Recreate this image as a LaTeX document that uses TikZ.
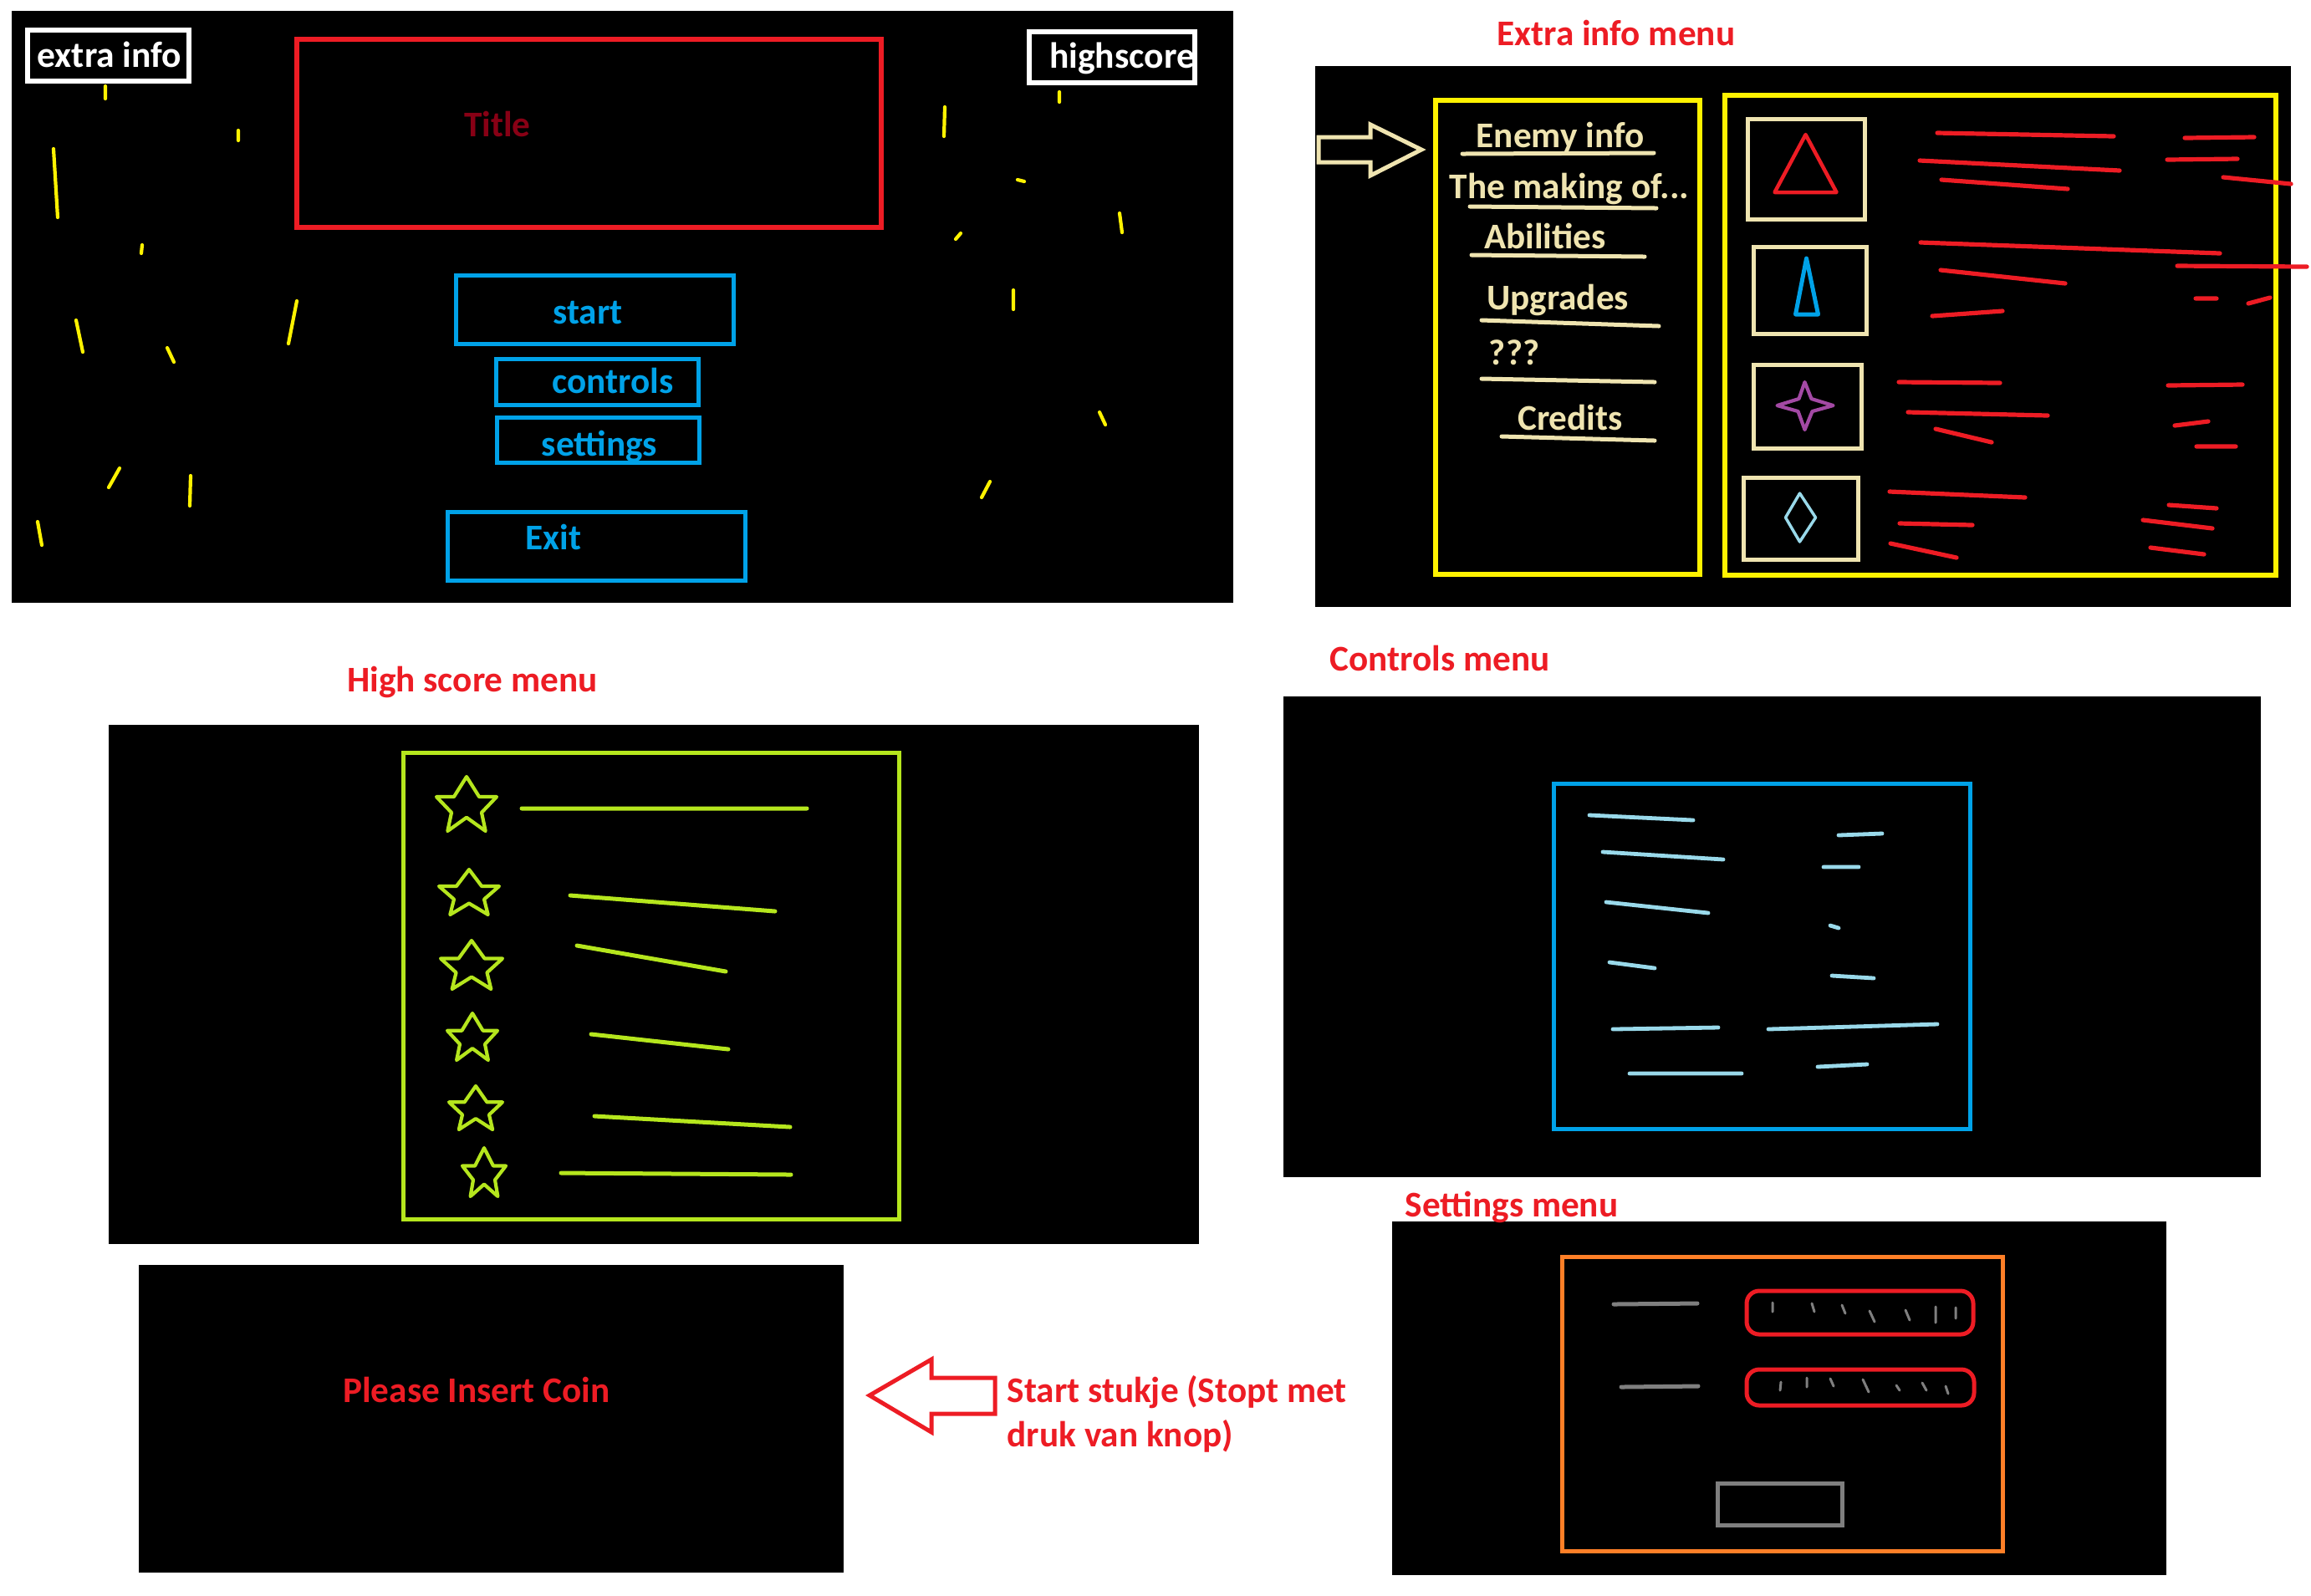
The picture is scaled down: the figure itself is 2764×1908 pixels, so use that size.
\documentclass[tikz,border=0pt]{standalone}
\usepackage{fontspec}
\usepackage{xcolor}
\usepackage{tikz}
\usetikzlibrary{positioning}
\setmainfont{Carlito}
\definecolor{paintred}{HTML}{ED1C24}
\definecolor{paintdark}{HTML}{880015}
\definecolor{paintblue}{HTML}{00A2E8}
\definecolor{paintsky}{HTML}{99D9EA}
\definecolor{paintyellow}{HTML}{FFF200}
\definecolor{paintlime}{HTML}{B5E61D}
\definecolor{paintcream}{HTML}{EFE4B0}
\definecolor{paintpurple}{HTML}{A349A4}
\definecolor{paintorange}{HTML}{FF7F27}
\definecolor{paintgray}{HTML}{7F7F7F}
\newcommand{\scorestar}[4]{\draw[starline, shift={(#1,#2)}, x=#3*0.1mm, y=#4*-0.1mm] (0,0) -- (.42,.37) -- (1,.37) -- (.5,.66) -- (.63,1) -- (0,.75) -- (-.63,1) -- (-.5,.66) -- (-1,.37) -- (-.42,.37) -- cycle;}

\begin{document}
\begin{tikzpicture}[x=0.1mm, y=-0.1mm,
  txt/.style={font=\fontsize{12.3}{14}\selectfont\bfseries, inner sep=0pt},
  heading/.style={txt, text=paintred},
  whitetxt/.style={font=\fontsize{12.4}{14}\selectfont\bfseries, inner sep=0pt, text=white},
  whitebox/.style={draw=white, line width=0.65mm, inner sep=0pt},
  menubtn/.style={draw=paintblue, line width=0.55mm, inner sep=0pt},
  iconbox/.style={draw=paintcream, line width=0.5mm, inner sep=0pt},
  spark/.style={draw=paintyellow, line width=0.42mm, line cap=round},
  thinred/.style={draw=paintred, line width=0.52mm, line cap=round},
  creamline/.style={draw=paintcream, line width=0.5mm, line cap=round},
  limeline/.style={draw=paintlime, line width=0.5mm, line cap=round},
  skyline/.style={draw=paintsky, line width=0.48mm, line cap=round},
  grayline/.style={draw=paintgray, line width=0.5mm, line cap=round},
  tick/.style={draw=paintgray, line width=0.3mm, line cap=round},
  starline/.style={draw=paintlime, line width=0.42mm, line join=round}]
  \useasboundingbox (0,0) rectangle (2764,1908);
  \fill[white] (0,0) rectangle (2764,1908);
  \fill[black] (14,13) rectangle (1475,721);
  \fill[black] (1573,79) rectangle (2740,726);
  \fill[black] (130,867) rectangle (1434,1488);
  \fill[black] (1535,833) rectangle (2704,1408);
  \fill[black] (166,1513) rectangle (1009,1881);
  \fill[black] (1665,1461) rectangle (2591,1884);

  \node[whitebox, minimum width=19.3mm, minimum height=6.1mm] (extrabtn) at (129.5,66.5) {};
  \node[whitebox, minimum width=19.8mm, minimum height=6.1mm] (scorebtn) at (1330,68.5) {};
  \node[whitetxt] (extratxt) at (131,65) {extra info};
  \node[whitetxt] (scoretxt) at (1342,70) {highscore};
  \node[draw=paintred, line width=0.55mm, minimum width=69.9mm, minimum height=22.5mm, inner sep=0pt] (titlebox) at (704.5,159.5) {};
  \node[txt, text=paintdark] (titletxt) at (595,148) {Title};
  \node[menubtn, minimum width=33.2mm, minimum height=8.2mm] (startbtn) at (711.5,370.5) {};
  \node[menubtn, minimum width=24.2mm, minimum height=5.5mm] (controlsbtn) at (714.5,457) {};
  \node[menubtn, minimum width=24.2mm, minimum height=5.4mm] (settingsbtn) at (715.5,526.5) {};
  \node[menubtn, minimum width=35.6mm, minimum height=8.2mm] (exitbtn) at (713.5,653.5) {};
  \node[txt, text=paintblue] (starttxt) at (703,374) {start};
  \node[txt, text=paintblue] (controlstxt) at (733,455) {controls};
  \node[txt, text=paintblue] (settingstxt) at (717,534) {settings};
  \node[txt, text=paintblue] (exittxt) at (662,642) {Exit};
  \draw[spark] (126,103) -- (126,118) (285,156) -- (285,168) (64,178) -- (69,260) (170,293) -- (169,303)
    (91,383) -- (99,421) (200,416) -- (208,433) (355,360) -- (345,411) (143,560) -- (130,583)
    (228,569) -- (227,605) (45,624) -- (50,652) (1267,110) -- (1267,122) (1130,128) -- (1129,163)
    (1217,215) -- (1225,217) (1339,255) -- (1342,278) (1149,279) -- (1143,286) (1212,347) -- (1212,370)
    (1315,493) -- (1322,508) (1184,576) -- (1174,595);

  \node[heading] (extrahead) at (1933,39) {Extra info menu};
  \draw[draw=paintcream, line width=0.5mm] (1577,164) -- (1639,164) -- (1639,149) -- (1700,179) -- (1639,210) -- (1639,194) -- (1577,194) -- cycle;
  \node[draw=paintyellow, line width=0.55mm, minimum width=31.6mm, minimum height=56.7mm, inner sep=0pt] (listbox) at (1875,403.5) {};
  \node[draw=paintyellow, line width=0.55mm, minimum width=65.9mm, minimum height=57.4mm, inner sep=0pt] (infobox) at (2392.5,401) {};
  \node[txt, text=paintcream] (enemytxt) at (1866,165) {Enemy info};
  \node[txt, text=paintcream] (makingtxt) at (1877,226) {The making of...};
  \node[txt, text=paintcream] (abilitiestxt) at (1848,282) {Abilities};
  \node[txt, text=paintcream] (upgradestxt) at (1863,359) {Upgrades};
  \node[txt, text=paintcream] (unknowntxt) at (1811,422) {???};
  \node[txt, text=paintcream] (creditstxt) at (1878,499) {Credits};
  \draw[creamline] (1749,184) -- (1978,183) (1758,247) -- (1981,249) (1760,305) -- (1967,307)
    (1772,383) -- (1984,390) (1772,453) -- (1979,457) (1796,522) -- (1979,527);
  \node[iconbox, minimum width=14mm, minimum height=12mm] (enemybox) at (2160.5,202.5) {};
  \node[iconbox, minimum width=13.5mm, minimum height=10.4mm] (needlebox) at (2165,347) {};
  \node[iconbox, minimum width=12.9mm, minimum height=10mm] (sparkbox) at (2162,486) {};
  \node[iconbox, minimum width=13.7mm, minimum height=9.8mm] (gembox) at (2154,620) {};
  \draw[draw=paintred, line width=0.45mm, line join=round] (2159.5,161) -- (2196.5,230) -- (2122.5,230) -- cycle;
  \draw[draw=paintblue, line width=0.5mm, line join=round] (2160.5,309) -- (2174.5,376) -- (2147.5,376) -- cycle;
  \draw[draw=paintpurple, line width=0.42mm, line join=round] (2158.5,457) -- (2166.5,477) -- (2192.5,485) -- (2167.5,492) -- (2158.5,514) -- (2150.5,492) -- (2125.5,485) -- (2151.5,477) -- cycle;
  \draw[draw=paintsky, line width=0.35mm, line join=round] (2152.5,590) -- (2171.5,619) -- (2152.5,648) -- (2135.5,619) -- cycle;
  \draw[thinred] (2317,159) -- (2528,163) (2296,192) -- (2535,204) (2322,215) -- (2473,226)
    (2613,165) -- (2696,164) (2592,191) -- (2676,190) (2659,212) -- (2740,220)
    (2297,290) -- (2655,303) (2604,318) -- (2759,319) (2321,323) -- (2470,339)
    (2626,357) -- (2651,357) (2689,363) -- (2715,356) (2311,378) -- (2395,372)
    (2271,457) -- (2392,458) (2593,461) -- (2682,460) (2282,493) -- (2449,497)
    (2601,509) -- (2641,504) (2315,513) -- (2382,529) (2627,534) -- (2674,534)
    (2260,588) -- (2422,595) (2594,604) -- (2651,608) (2272,626) -- (2359,628)
    (2563,622) -- (2646,632) (2261,650) -- (2340,667) (2572,655) -- (2636,663);

  \node[heading] (scorehead) at (565,816) {High score menu};
  \node[draw=paintlime, line width=0.5mm, minimum width=59.3mm, minimum height=55.8mm, inner sep=0pt] (scorebox) at (778.5,1179) {};
  \scorestar{558}{929}{36}{65}
  \scorestar{561}{1040}{36}{54}
  \scorestar{564}{1125}{37}{58}
  \scorestar{565}{1212}{30}{56}
  \scorestar{569}{1299}{32}{52}
  \scorestar{579}{1373}{26}{58}
  \draw[limeline] (624,967) -- (965,967) (682,1071) -- (927,1090) (690,1131) -- (868,1162)
    (707,1237) -- (871,1255) (711,1335) -- (945,1348) (671,1403) -- (946,1405);

  \node[heading] (controlshead) at (1722,787) {Controls menu};
  \node[draw=paintblue, line width=0.5mm, minimum width=49.8mm, minimum height=41.3mm, inner sep=0pt] (controlsbox) at (2107,1143.5) {};
  \draw[skyline] (1901,975) -- (2025,981) (1917,1019) -- (2061,1028) (1921,1079) -- (2043,1092)
    (1925,1151) -- (1979,1158) (1929,1231) -- (2055,1229) (1949,1284) -- (2083,1284)
    (2199,999) -- (2251,997) (2181,1037) -- (2223,1037) (2189,1107) -- (2199,1110)
    (2191,1167) -- (2241,1170) (2115,1231) -- (2317,1225) (2174,1276) -- (2233,1273);

  \node[heading] (settingshead) at (1808,1444) {Settings menu};
  \node[draw=paintorange, line width=0.5mm, minimum width=52.7mm, minimum height=35.2mm, inner sep=0pt] (settingsbox) at (2131.5,1679.5) {};
  \node[draw=paintred, line width=0.5mm, rounded corners=1.5mm, minimum width=27.1mm, minimum height=5.2mm, inner sep=0pt] (musicpill) at (2224.5,1570) {};
  \node[draw=paintred, line width=0.5mm, rounded corners=1.5mm, minimum width=27.2mm, minimum height=4.3mm, inner sep=0pt] (soundpill) at (2225,1659.5) {};
  \node[draw=paintgray, line width=0.5mm, minimum width=14.9mm, minimum height=5mm, inner sep=0pt] (backbtn) at (2129,1799.5) {};
  \draw[grayline] (1930,1560) -- (2030,1559) (1939,1659) -- (2031,1658);
  \draw[tick] (2120,1558) -- (2120,1569) (2167,1559) -- (2170,1569) (2203,1561) -- (2207,1571)
    (2236,1568) -- (2242,1581) (2279,1567) -- (2284,1579) (2315,1563) -- (2315,1582) (2339,1564) -- (2339,1577)
    (2130,1653) -- (2129,1663) (2161,1648) -- (2161,1659) (2189,1649) -- (2193,1658) (2228,1650) -- (2235,1665)
    (2268,1657) -- (2272,1663) (2299,1654) -- (2304,1663) (2327,1658) -- (2330,1667);

  \node[heading] (cointxt) at (570,1662) {Please Insert Coin};
  \draw[draw=paintred, line width=0.5mm] (1040,1669) -- (1114,1626) -- (1114,1648) -- (1190,1648) -- (1190,1691) -- (1114,1691) -- (1114,1713) -- cycle;
  \node[heading, anchor=west, align=left] (starttext) at (1204,1691) {Start stukje (Stopt met\\[0.4mm]druk van knop)};
\end{tikzpicture}
\end{document}
